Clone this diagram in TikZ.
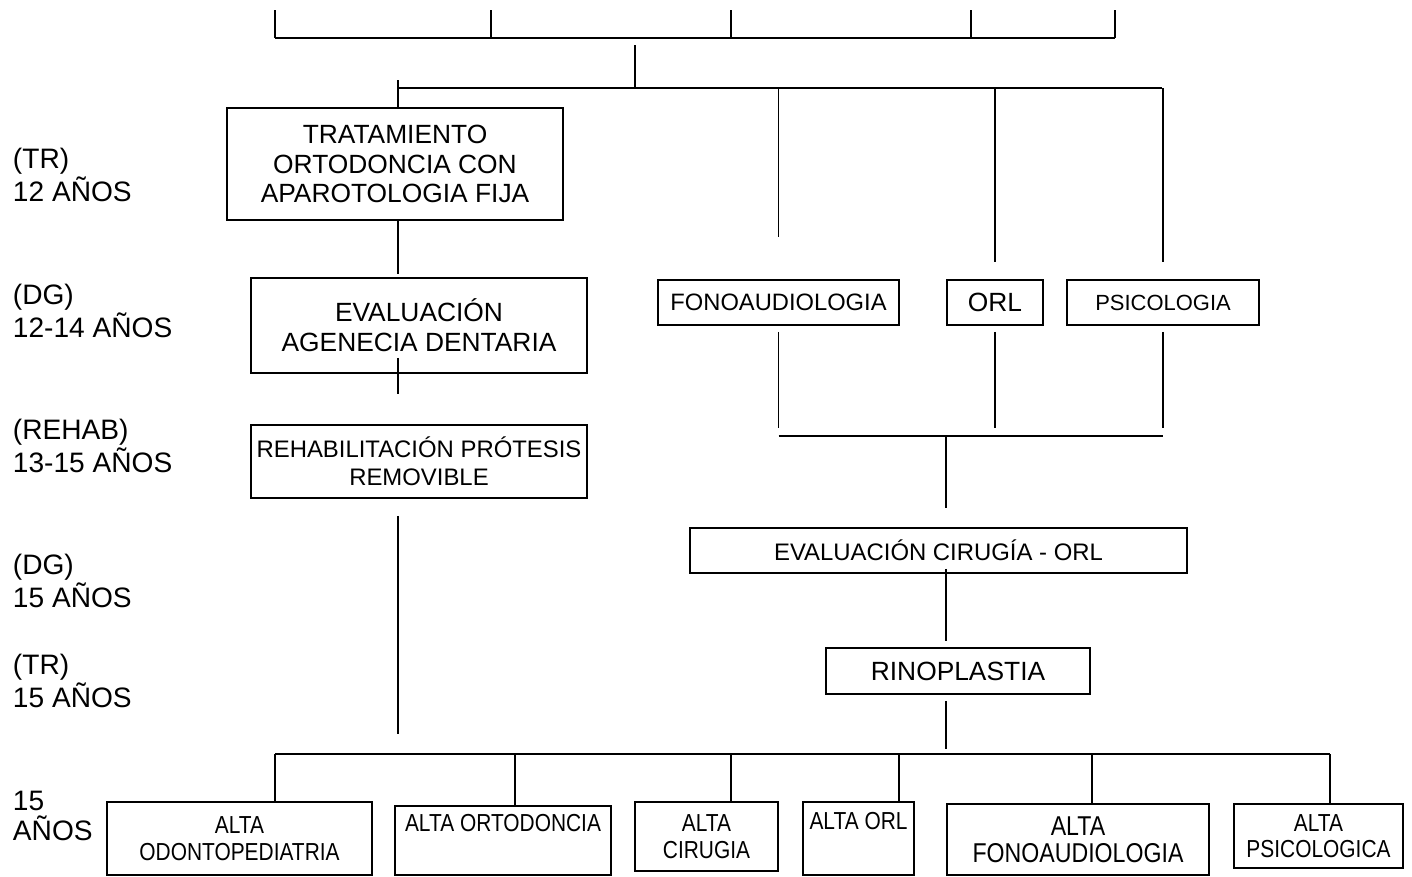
\documentclass[tikz,border=0pt]{standalone}
\usepackage{fontspec}
\setmainfont{Liberation Sans}
\newfontfamily\altafont[FakeStretch=0.85]{Liberation Sans}
\usetikzlibrary{positioning}

\begin{document}
\begin{tikzpicture}[x=0.02cm, y=-0.02cm, line width=1.1pt,
  box/.style={draw, line width=1.1pt, align=center, inner sep=0pt,
              font=\fontsize{15}{17}\selectfont},
  altabox/.style={box, font=\altafont\fontsize{14}{15}\selectfont},
  stage/.style={anchor=west, align=left, inner sep=0pt,
                font=\fontsize{16}{17}\selectfont}]
  \useasboundingbox (0,0) rectangle (1412,876);
  \node[stage] (s1) at (12,175) {(TR)\\12 AÑOS};
  \node[stage] (s2) at (12,311) {(DG)\\12-14 AÑOS};
  \node[stage] (s3) at (12,446) {(REHAB)\\13-15 AÑOS};
  \node[stage] (s4) at (12,581) {(DG)\\15 AÑOS};
  \node[stage] (s5) at (12,681) {(TR)\\15 AÑOS};
  \node[stage] (s6) at (12,816) {15\\AÑOS};
  \node[box, minimum width=6.72cm, minimum height=2.24cm] (trat) at (395,164)
    {TRATAMIENTO\\ORTODONCIA CON\\APAROTOLOGIA FIJA};
  \node[box, minimum width=6.72cm, minimum height=1.9cm] (evag) at (419,325.5)
    {EVALUACIÓN\\AGENECIA DENTARIA};
  \node[box, minimum width=6.72cm, minimum height=1.46cm,
        font=\fontsize{13.6}{15.9}\selectfont] (rehab) at (419,461.5)
    {REHABILITACIÓN PRÓTESIS\\REMOVIBLE};
  \node[box, minimum width=4.82cm, minimum height=0.9cm,
        font=\fontsize{13.5}{16}\selectfont] (fono) at (778.5,302.5) {FONOAUDIOLOGIA};
  \node[box, minimum width=1.92cm, minimum height=0.9cm] (orl) at (995,302.5) {ORL};
  \node[box, minimum width=3.84cm, minimum height=0.9cm,
        font=\fontsize{12.5}{15}\selectfont] (psico) at (1163,302.5) {PSICOLOGIA};
  \node[box, minimum width=9.94cm, minimum height=0.9cm,
        font=\fontsize{13.6}{16}\selectfont] (evcir) at (938.5,550.5)
    {EVALUACIÓN CIRUGÍA - ORL};
  \node[box, minimum width=5.28cm, minimum height=0.92cm] (rino) at (958,671) {RINOPLASTIA};
  \node[altabox, minimum width=5.3cm, minimum height=1.46cm] (b1) at (239.5,838.5)
    {ALTA\\ODONTOPEDIATRIA};
  \node[altabox, minimum width=4.32cm, minimum height=1.38cm] (b2) at (503,840.5)
    {ALTA ORTODONCIA\\ \strut};
  \node[altabox, minimum width=2.86cm, minimum height=1.38cm] (b3) at (706.5,836.5)
    {ALTA\\CIRUGIA};
  \node[altabox, minimum width=2.22cm, minimum height=1.46cm] (b4) at (858.5,838.5)
    {ALTA ORL\\ \strut};
  \node[altabox, minimum width=5.24cm, minimum height=1.42cm,
        font=\altafont\fontsize{15.5}{15.5}\selectfont] (b5) at (1078,839.5)
    {ALTA\\FONOAUDIOLOGIA};
  \node[altabox, minimum width=3.38cm, minimum height=1.28cm] (b6) at (1318.5,836)
    {ALTA\\PSICOLOGICA};
  \coordinate (barL) at (275,38);
  \coordinate (barR) at (1115,38);
  \coordinate (hub) at (635,45);
  \coordinate (busT) at (635,88);
  \coordinate (busTL) at (398,88);
  \coordinate (busTR) at (1162,88);
  \coordinate (tickT) at (398,80);
  \coordinate (leftEnd) at (398,734);
  \coordinate (busM) at (946,436);
  \coordinate (busBL) at (275,754);
  \coordinate (busBR) at (1330,754);
  \draw[line width=1.5pt] (barL) -- (barR);
  \foreach \x in {275,491,731,971,1115}
    \draw (\x,10) -- (\x,38);
  \draw (hub) -- (busT);
  \draw (busTL) -- (busTR);
  \draw (tickT) -- (tickT |- trat.north);
  \draw (fono |- busT) -- ++(0,149);
  \draw (orl |- busT) -- ++(0,174);
  \draw (psico |- busT) -- ++(0,174);
  \draw (tickT |- trat.south) -- ++(0,53);
  \draw (tickT |- evag.south) ++(0,-16) -- ++(0,36);
  \draw (tickT |- rehab.south) ++(0,17) -- (leftEnd);
  \draw (fono.south) ++(0,6) -- ++(0,96);
  \draw (orl.south) ++(0,6) -- ++(0,96);
  \draw (psico.south) ++(0,6) -- ++(0,96);
  \draw (fono |- busM) -- (psico |- busM);
  \draw (busM) -- ++(0,72);
  \draw (busM |- evcir.south) ++(0,-5) -- ++(0,72);
  \draw (busM |- rino.south) ++(0,6) -- ++(0,48);
  \draw (busBL) -- (busBR);
  \foreach \b/\x in {b1/275, b2/515, b3/731, b4/899, b5/1092, b6/1330} {
    \coordinate (d\b) at (\x,754);
    \draw (d\b) -- (d\b |- \b.north);
  }
\end{tikzpicture}
\end{document}
